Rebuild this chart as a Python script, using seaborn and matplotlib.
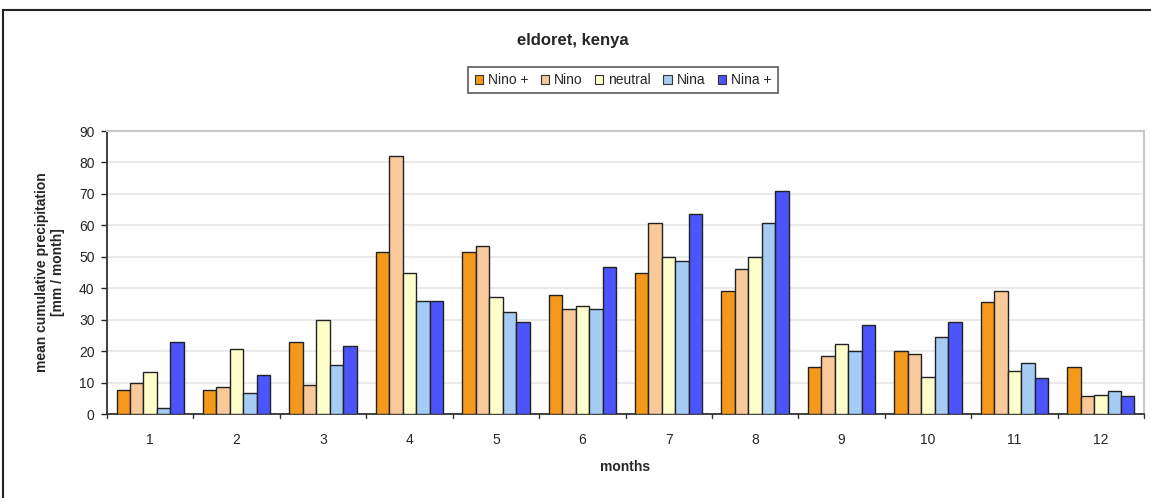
import numpy as np
import pandas as pd
import matplotlib
matplotlib.use("Agg")
import matplotlib.pyplot as plt
from matplotlib.patches import Rectangle
import seaborn as sns

# Monthly mean cumulative precipitation (mm/month) by ENSO phase
months = [str(m) for m in range(1, 13)]
phases = ["Nino +", "Nino", "neutral", "Nina", "Nina +"]
nino_plus = [7.5, 7.6, 23.0, 51.6, 51.6, 37.7, 45.0, 39.1, 14.9, 20.0, 35.5, 14.8]
nino      = [9.9, 8.7, 9.2, 82.2, 53.5, 33.5, 60.9, 46.1, 18.6, 19.2, 39.1, 5.7]
neutral   = [13.3, 20.8, 30.0, 44.9, 37.3, 34.3, 49.8, 49.8, 22.4, 11.8, 13.7, 6.1]
nina      = [1.8, 6.7, 15.6, 36.0, 32.4, 33.5, 48.5, 60.9, 19.9, 24.5, 16.1, 7.3]
nina_plus = [23.0, 12.4, 21.7, 36.0, 29.2, 46.6, 63.6, 71.0, 28.2, 29.2, 11.3, 5.7]
colors = ["#F5991C", "#F8C99A", "#FFFFCC", "#A6CBF5", "#4B55FB"]

series = [nino_plus, nino, neutral, nina, nina_plus]
df = pd.DataFrame({
    "month": months * len(phases),
    "phase": np.repeat(phases, len(months)),
    "value": np.concatenate(series),
})

sns.set_style("white")
plt.rcParams["font.family"] = ["Liberation Sans", "DejaVu Sans"]

fig = plt.figure(figsize=(11.51, 4.98), dpi=100)
ax = fig.add_axes([107 / 1151, 1 - 414 / 498, (1144 - 107) / 1151, (414 - 131) / 498])

sns.barplot(data=df, x="month", y="value", hue="phase", order=months,
            hue_order=phases, palette=colors, width=0.78, saturation=1,
            edgecolor="#222222", linewidth=1.0, ax=ax, legend=False, zorder=3)

ax.set_xlim(-0.5, 11.5)
ax.set_ylim(0, 90)
ax.set_yticks(range(0, 91, 10))
ax.yaxis.grid(True, color="#e6e6e6", linewidth=1.2, zorder=0)
ax.set_axisbelow(True)

# category ticks sit between month groups
ax.set_xticks(np.arange(0, 12))
ax.tick_params(axis="x", length=0, pad=14, labelsize=10)
ax.tick_params(axis="y", length=4, width=1, direction="out", left=True, labelsize=10, pad=5)
for b in np.arange(-0.5, 12.0, 1.0):
    ax.plot([b, b], [0, -1.4], color="#333333", lw=1, clip_on=False, zorder=4)

for side in ("left", "bottom"):
    ax.spines[side].set_color("#333333")
    ax.spines[side].set_linewidth(1.3)
for side in ("top", "right"):
    ax.spines[side].set_visible(True)
    ax.spines[side].set_color("#c8c8c8")
    ax.spines[side].set_linewidth(1.5)

ax.set_xlabel("months", fontsize=10, fontweight="bold", labelpad=9)
ax.set_ylabel("mean cumulative precipitation\n[mm / month]", fontsize=10,
              fontweight="bold", labelpad=10)

fig.text(573 / 1151, 1 - 41 / 498, "eldoret, kenya", ha="center", va="center",
         fontsize=12, fontweight="bold")

handles = [Rectangle((0, 0), 1, 1, facecolor=c, edgecolor="#333333", linewidth=0.8)
           for c in colors]
leg = fig.legend(handles, phases, loc="center", bbox_to_anchor=(623 / 1151, 1 - 80 / 498),
                 ncol=5, fontsize=10, frameon=True, fancybox=False, handlelength=0.6,
                 handleheight=0.6, handletextpad=0.35, columnspacing=0.9,
                 borderpad=0.45, borderaxespad=0)
leg.get_frame().set_edgecolor("#333333")
leg.get_frame().set_linewidth(1.2)

# chart border
fig.patches.append(Rectangle((3 / 1151, -0.1), 1.2, 1 - 10 / 498 + 0.1,
                             transform=fig.transFigure, fill=False,
                             edgecolor="#222222", linewidth=1.5))

fig.savefig("out.png", dpi=100)
